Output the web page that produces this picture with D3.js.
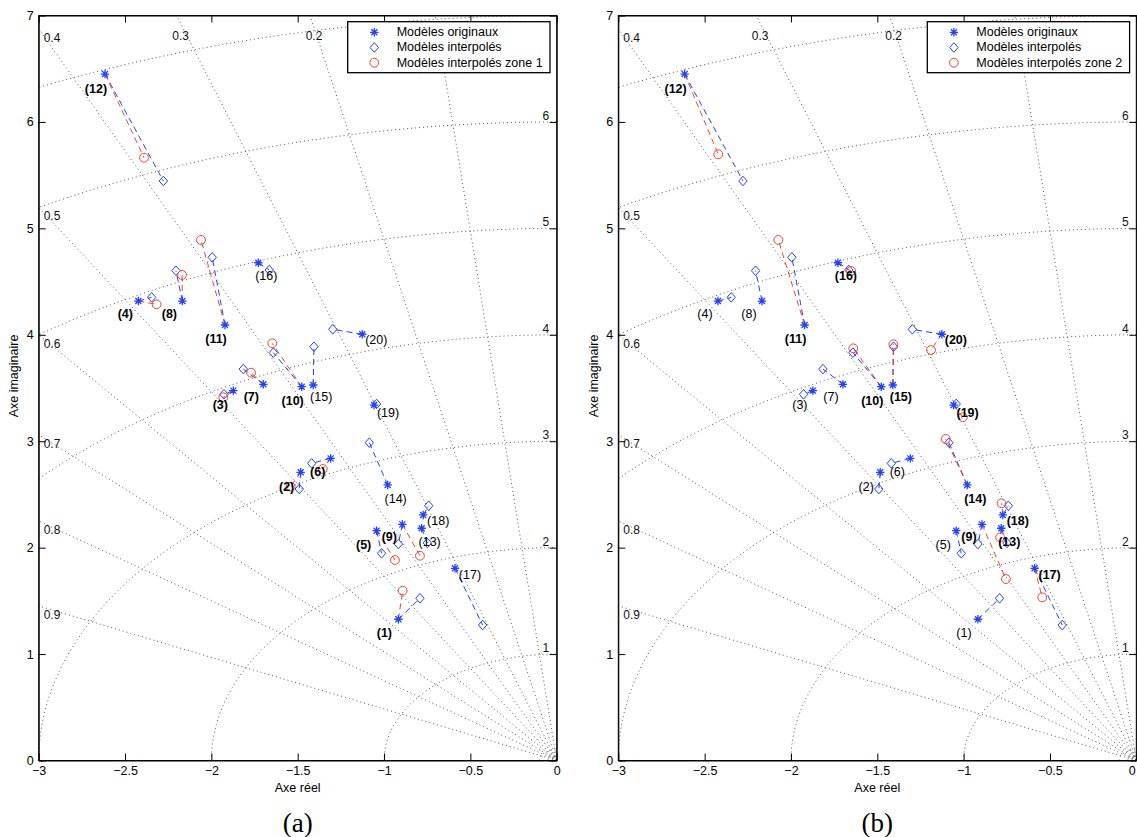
<!DOCTYPE html>
<html><head><meta charset="utf-8">
<script src="https://cdn.jsdelivr.net/npm/d3@7"></script>
<style>
body{margin:0;background:#fff}
svg{display:block}
text{font-family:"Liberation Sans",Arial,Helvetica,sans-serif}
</style>
</head><body>
<svg id="chart" width="1137" height="837"></svg>
<script>
// ---------- DATA ----------
const modelIds = d3.range(1, 21);
const origRe = [-0.917, -1.483, -1.873, -2.423, -1.043, -1.309, -1.699, -2.168, -0.894, -1.477,
                -1.921, -2.616, -0.782, -0.979, -1.410, -1.728, -0.589, -0.773, -1.058, -1.126];
const origIm = [1.327, 2.708, 3.475, 4.317, 2.159, 2.839, 3.535, 4.317, 2.219, 3.512,
                4.092, 6.450, 2.182, 2.589, 3.528, 4.677, 1.806, 2.307, 3.340, 4.005];
const interpRe = [-0.792, -1.491, -1.927, -2.346, -1.014, -1.419, -1.815, -2.205, -0.917, -1.641,
                  -1.995, -2.278, -0.749, -1.085, -1.406, -1.665, -0.429, -0.741, -1.043, -1.297];
const interpIm = [1.524, 2.551, 3.441, 4.352, 1.947, 2.792, 3.678, 4.602, 2.034, 3.832,
                  4.728, 5.445, 2.044, 2.986, 3.888, 4.609, 1.273, 2.394, 3.350, 4.051];
const zone1Models = [1, 2, 3, 4, 5, 6, 7, 8, 9, 10, 11, 12];
const zone1Re = [-0.892, -1.541, -1.931, -2.317, -0.937, -1.355, -1.770, -2.170, -0.792, -1.647, -2.060, -2.390];
const zone1Im = [1.595, 2.573, 3.413, 4.286, 1.884, 2.739, 3.644, 4.562, 1.924, 3.920, 4.891, 5.664];
const zone2Models = [9, 10, 11, 12, 13, 14, 15, 16, 17, 18, 19, 20];
const zone2Re = [-0.755, -1.639, -2.073, -2.421, -0.789, -1.104, -1.407, -1.652, -0.545, -0.780, -1.005, -1.189];
const zone2Im = [1.705, 3.873, 4.891, 5.696, 2.097, 3.021, 3.911, 4.600, 1.533, 2.417, 3.225, 3.857];

const xTicks = [-3, -2.5, -2, -1.5, -1, -0.5, 0];
const yTicks = [0, 1, 2, 3, 4, 5, 6, 7];
const gridDamping = [0.1, 0.2, 0.3, 0.4, 0.5, 0.6, 0.7, 0.8, 0.9];
const dampingLabels = [0.2, 0.3, 0.4, 0.5, 0.6, 0.7, 0.8, 0.9]; // 0.1 is hidden by the legend
const gridWn = [0.05, 0.1, 1, 2, 3, 4, 5, 6, 7];
const wnLabels = [1, 2, 3, 4, 5, 6];
const legendLabels = ["Modèles originaux", "Modèles interpolés"];
const panelNames = ["(a)", "(b)"];
const zoneNames = ["Modèles interpolés zone 1", "Modèles interpolés zone 2"];

// label offsets (pixels, centre of label relative to original pole) - layout only
const labelOffset = [[-14,14],[-14,15],[-13,14],[-13,13],[-13,14],[-13,14],[-12,13],[-13,13],[-13,13],[-9,14],
                     [-9,14],[-9,15],[8,14],[8,14],[8,12],[8,13],[15,7],[15,6],[14,8],[14,6]];

// ---------- LAYOUT ----------
const W = 518, H = 745, TOP = 15.5;
const panelLeft = [38.7, 618.3];
const BLUE = "#2241ff", RED = "#f2442c";

const svg = d3.select("#chart");
const x = d3.scaleLinear().domain([-3, 0]).range([0, W]);
const y = d3.scaleLinear().domain([0, 7]).range([H, 0]);

const starPath = "M-4.2,0H4.2M0,-4.2V4.2M-3,-3L3,3M-3,3L3,-3";
const diamondPath = "M0,-4.8L4.2,0L0,4.8L-4.2,0Z";

function drawPanel(p) {
  const zModels = p === 0 ? zone1Models : zone2Models;
  const zRe = p === 0 ? zone1Re : zone2Re;
  const zIm = p === 0 ? zone1Im : zone2Im;
  const g = svg.append("g").attr("transform", `translate(${panelLeft[p]},${TOP})`);

  const clipId = "clip" + p;
  g.append("clipPath").attr("id", clipId).append("rect").attr("width", W).attr("height", H);

  // ----- grid -----
  const grid = g.append("g").attr("clip-path", `url(#${clipId})`)
    .attr("fill", "none").attr("stroke", "#444").attr("stroke-width", 0.9)
    .attr("stroke-dasharray", "1,3");
  const line = d3.line().x(d => x(d[0])).y(d => y(d[1]));
  gridDamping.forEach(z => {
    const s = Math.sqrt(1 - z * z);
    grid.append("path").attr("d", line([[0, 0], [-z * 12, s * 12]]));
  });
  gridWn.forEach(w => {
    const pts = d3.range(0, 121).map(i => {
      const t = i / 120 * Math.PI / 2;
      return [-w * Math.cos(t), w * Math.sin(t)];
    });
    grid.append("path").attr("d", line(pts));
  });

  // grid labels
  const gl = g.append("g").attr("font-size", 12).attr("fill", "#111");
  dampingLabels.forEach(z => {
    const s = Math.sqrt(1 - z * z);
    const yAtLeft = 3 * s / z;
    if (yAtLeft <= 7) {
      gl.append("text").attr("x", 5).attr("y", y(yAtLeft) + 9)
        .attr("dominant-baseline", "central").text(String(z));
    } else {
      const xAtTop = -7 * z / s;
      gl.append("text").attr("x", x(xAtTop) + 4).attr("y", 20)
        .attr("text-anchor", "middle").attr("dominant-baseline", "central").text(String(z));
    }
  });
  wnLabels.forEach(w => {
    gl.append("text").attr("x", W - 7.5).attr("y", y(w) - 2)
      .attr("text-anchor", "end").text(String(w));
  });

  // ----- connecting lines -----
  const lines = g.append("g").attr("fill", "none").attr("stroke-width", 1).attr("stroke-dasharray", "6,4");
  modelIds.forEach((m, i) => {
    lines.append("line").attr("stroke", BLUE)
      .attr("x1", x(origRe[i])).attr("y1", y(origIm[i]))
      .attr("x2", x(interpRe[i])).attr("y2", y(interpIm[i]));
  });
  zModels.forEach((m, j) => {
    const i = m - 1;
    lines.append("line").attr("stroke", RED)
      .attr("x1", x(origRe[i])).attr("y1", y(origIm[i]))
      .attr("x2", x(zRe[j])).attr("y2", y(zIm[j]));
  });

  // ----- markers -----
  const mk = g.append("g").attr("fill", "none");
  modelIds.forEach((m, i) => {
    mk.append("path").attr("d", diamondPath).attr("stroke", BLUE).attr("stroke-width", 1)
      .attr("transform", `translate(${x(interpRe[i])},${y(interpIm[i])})`);
  });
  zModels.forEach((m, j) => {
    mk.append("circle").attr("cx", x(zRe[j])).attr("cy", y(zIm[j])).attr("r", 4.4)
      .attr("stroke", RED).attr("stroke-width", 1);
  });
  modelIds.forEach((m, i) => {
    mk.append("path").attr("d", starPath).attr("stroke", BLUE).attr("stroke-width", 1.3)
      .attr("transform", `translate(${x(origRe[i])},${y(origIm[i])})`);
  });

  // ----- model labels -----
  const lb = g.append("g").attr("font-size", 12.5).attr("fill", "#000");
  modelIds.forEach((m, i) => {
    lb.append("text")
      .attr("x", x(origRe[i]) + labelOffset[i][0])
      .attr("y", y(origIm[i]) + labelOffset[i][1])
      .attr("text-anchor", "middle").attr("dominant-baseline", "central")
      .attr("font-weight", zModels.includes(m) ? "bold" : "normal")
      .text(`(${m})`);
  });

  // ----- axes -----
  const fmt = d3.format("");
  const ax = g.append("g");
  const bottomAxis = ax.append("g").attr("transform", `translate(0,${H})`)
    .call(d3.axisBottom(x).tickValues(xTicks).tickSizeInner(-7).tickSizeOuter(0).tickPadding(6).tickFormat(fmt));
  ax.append("g")
    .call(d3.axisTop(x).tickValues(xTicks).tickSizeInner(-7).tickSizeOuter(0).tickFormat(""));
  ax.append("g")
    .call(d3.axisLeft(y).tickValues(yTicks).tickSizeInner(-7).tickSizeOuter(0).tickPadding(5).tickFormat(fmt));
  ax.append("g").attr("transform", `translate(${W},0)`)
    .call(d3.axisRight(y).tickValues(yTicks).tickSizeInner(-7).tickSizeOuter(0).tickFormat(""));
  ax.selectAll("text").attr("font-size", 12.5).attr("fill", "#000");
  ax.selectAll("path.domain").attr("stroke", "#000").attr("stroke-width", 1);
  ax.selectAll(".tick line").attr("stroke", "#000").attr("stroke-width", 1);
  if (p === 1) {
    // keep the last tick label inside the page
    bottomAxis.selectAll(".tick").filter(d => d === 0).select("text")
      .attr("text-anchor", "end").attr("dx", -1);
  }
  g.append("rect").attr("width", W).attr("height", H).attr("fill", "none").attr("stroke", "#000").attr("stroke-width", 1);

  // axis titles
  g.append("text").attr("x", W / 2).attr("y", H + 27).attr("text-anchor", "middle")
    .attr("dominant-baseline", "central").attr("font-size", 12.5).text("Axe réel");
  g.append("text").attr("transform", `translate(-24.5,${H / 2 - 12}) rotate(-90)`)
    .attr("text-anchor", "middle").attr("dominant-baseline", "central").attr("font-size", 12.5).text("Axe imaginaire");

  // panel caption
  g.append("text").attr("x", W / 2).attr("y", H + 62).attr("text-anchor", "middle")
    .attr("dominant-baseline", "central").attr("font-size", 27)
    .style("font-family", '"Liberation Serif","Times New Roman",serif').text(panelNames[p]);

  // ----- legend -----
  const lw = 202.3, lh = 51;
  const lg = g.append("g").attr("transform", `translate(${W - 6.7 - lw},6.2)`);
  lg.append("rect").attr("width", lw).attr("height", lh).attr("fill", "#fff")
    .attr("stroke", "#000").attr("stroke-width", 1.3);
  const rows = [legendLabels[0], legendLabels[1], zoneNames[p]];
  rows.forEach((t, k) => {
    const ry = 10.6 + k * 15.2;
    if (k === 0) lg.append("path").attr("d", starPath).attr("stroke", BLUE).attr("stroke-width", 1.3)
      .attr("fill", "none").attr("transform", `translate(26.6,${ry})`);
    if (k === 1) lg.append("path").attr("d", diamondPath).attr("stroke", BLUE).attr("stroke-width", 1)
      .attr("fill", "none").attr("transform", `translate(26.6,${ry})`);
    if (k === 2) lg.append("circle").attr("cx", 26.6).attr("cy", ry).attr("r", 4.4)
      .attr("stroke", RED).attr("fill", "none").attr("stroke-width", 1);
    lg.append("text").attr("x", 49).attr("y", ry).attr("dominant-baseline", "central")
      .attr("font-size", 12.5).attr("fill", "#000").text(t);
  });
}

drawPanel(0);
drawPanel(1);
</script>
</body></html>
